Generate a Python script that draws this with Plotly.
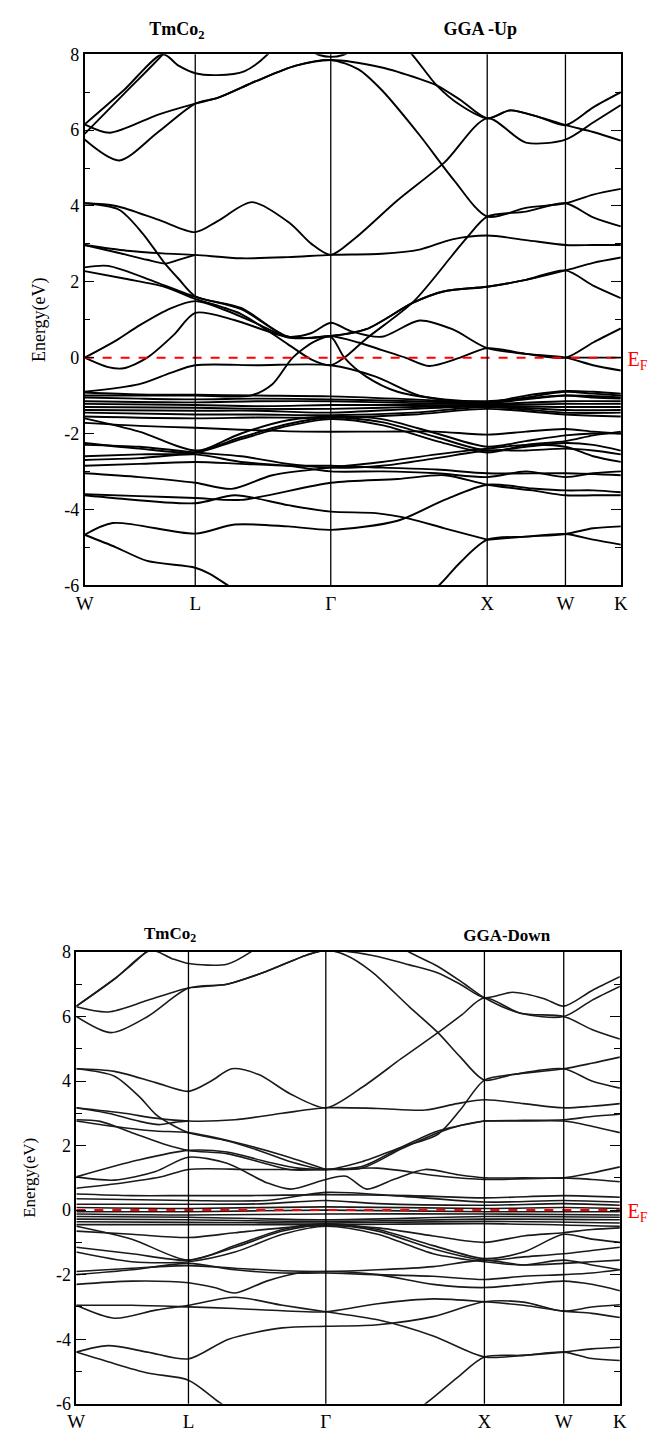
import plotly.graph_objects as go

# ---------------- data ----------------
HS_K = [0.0, 0.707, 1.573, 2.573, 3.073, 3.427]
HS_LABELS = ["W", "L", "Γ", "X", "W", "K"]
Y_TICKS = [8, 6, 4, 2, 0, -2, -4, -6]
Y_MINOR = [7, 5, 3, 1, -1, -3, -5]

# spin-up bands: (k, E) pairs
UP_BANDS = [
    [(0, 5.9), (0.25, 6.95), (0.5, 8.0), (0.62, 8.6), (0.7, 9.0)],
    [(0, 6.15), (0.25, 7.05), (0.5, 8.0), (0.6, 7.7), (0.707, 7.5), (0.85, 7.45), (1.02, 7.55), (1.17, 8.0), (1.3, 8.7)],
    [(0, 6.15), (0.16, 5.93), (0.47, 6.41), (0.707, 6.7), (0.85, 6.85), (1.1, 7.3), (1.35, 7.7), (1.573, 7.85), (1.9, 7.65), (2.14, 7.35), (2.25, 7.18), (2.4, 6.8), (2.573, 6.31), (2.72, 6.52), (2.9, 6.35), (3.073, 6.13), (3.25, 6.6), (3.427, 7.0)],
    [(1.35, 8.3), (1.5, 7.98), (1.573, 7.93), (1.65, 7.98), (1.8, 8.3)],
    [(1.95, 8.6), (2.1, 7.96), (2.25, 7.18), (2.4, 6.66), (2.573, 6.31), (2.72, 6.52), (2.9, 6.35), (3.073, 6.13), (3.25, 5.95), (3.427, 5.72)],
    [(0, 5.75), (0.22, 5.2), (0.47, 5.95), (0.707, 6.7), (0.85, 6.85), (1.1, 7.3), (1.35, 7.7), (1.573, 7.85), (1.75, 7.6), (1.9, 7.05), (2.14, 5.87), (2.36, 4.68), (2.573, 3.72), (2.82, 3.95), (3.073, 4.07), (3.25, 4.3), (3.427, 4.45)],
    [(0, 4.07), (0.2, 4.0), (0.47, 3.64), (0.707, 3.31), (0.85, 3.6), (1.07, 4.1), (1.31, 3.55), (1.45, 3.0), (1.573, 2.71), (1.72, 3.12), (2.0, 4.15), (2.3, 5.15), (2.573, 6.31), (2.82, 5.67), (3.073, 5.75), (3.25, 6.2), (3.427, 6.66)],
    [(0, 4.07), (0.22, 3.9), (0.37, 3.28), (0.51, 2.5), (0.6, 2.08), (0.707, 1.62), (1.0, 1.31), (1.3, 0.55), (1.573, 0.57), (1.8, 0.75), (2.1, 1.45), (2.3, 1.75), (2.573, 1.87), (2.82, 2.05), (3.073, 2.3), (3.25, 2.5), (3.427, 2.64)],
    [(0, 2.97), (0.27, 2.82), (0.5, 2.75), (0.707, 2.71), (1.0, 2.62), (1.3, 2.65), (1.573, 2.71), (1.9, 2.74), (2.14, 2.85), (2.35, 3.12), (2.573, 3.22), (2.82, 3.1), (3.073, 2.97), (3.25, 2.97), (3.427, 2.97)],
    [(0, 2.97), (0.2, 2.78), (0.4, 2.58), (0.515, 2.48), (0.6, 2.58), (0.707, 2.71)],
    [(0, 2.38), (0.15, 2.42), (0.45, 2.0), (0.707, 1.6), (1.0, 1.28), (1.3, 0.55), (1.573, 0.57), (1.8, 0.75), (2.1, 1.45), (2.3, 1.75), (2.573, 1.87), (2.82, 2.05), (3.073, 2.3), (3.25, 1.9), (3.427, 1.57)],
    [(0, 2.28), (0.26, 2.08), (0.51, 1.87), (0.707, 1.55), (1.0, 1.15), (1.3, 0.35), (1.45, -0.05), (1.573, -0.2), (1.66, 0.0), (1.8, 0.5), (2.1, 1.47), (2.35, 2.7), (2.45, 3.2), (2.573, 3.72), (2.82, 3.85), (3.073, 4.07), (3.25, 3.7), (3.427, 3.46)],
    [(0, 0.0), (0.2, 0.45), (0.35, 0.85), (0.55, 1.3), (0.707, 1.49), (0.9, 1.25), (1.1, 0.9), (1.3, 0.53), (1.45, 0.52), (1.573, 0.57), (1.75, 0.4), (1.9, 0.2), (2.05, 0.0), (2.2, -0.22), (2.4, 0.0), (2.573, 0.25), (2.82, 0.1), (3.073, 0.0), (3.25, -0.2), (3.427, -0.34)],
    [(0, 0.0), (0.15, -0.25), (0.25, -0.28), (0.4, 0.0), (0.57, 0.6), (0.707, 1.18), (0.95, 1.0), (1.3, 0.55), (1.45, 0.65), (1.573, 0.92), (1.7, 0.7), (1.9, 0.55), (2.14, 0.98), (2.35, 0.75), (2.573, 0.25), (2.82, 0.1), (3.073, 0.0), (3.25, 0.4), (3.427, 0.77)],
    [(3.073, 0.0), (3.25, 0.0), (3.427, 0.0)],
    [(0, -0.9), (0.35, -0.7), (0.55, -0.4), (0.707, -0.2), (1.1, -0.2), (1.573, -0.2), (1.86, -0.5), (2.14, -1.0), (2.573, -1.2), (2.82, -1.05), (3.073, -0.9), (3.25, -0.95), (3.427, -1.0)],
    [(0, -1.0), (0.35, -1.0), (0.707, -1.0), (1.06, -1.0), (1.2, -0.7), (1.33, 0.0), (1.47, 0.43), (1.573, 0.55), (1.66, 0.0), (1.8, -0.5), (2.0, -0.9), (2.3, -1.1), (2.573, -1.15), (3.073, -1.0), (3.427, -1.05)],
    [(0, -0.92), (0.35, -0.97), (0.707, -0.98), (1.1, -1.0), (1.573, -1.02), (2.1, -1.1), (2.573, -1.18), (2.82, -1.0), (3.073, -0.88), (3.25, -0.9), (3.427, -0.95)],
    [(0, -1.05), (0.35, -1.08), (0.707, -1.1), (1.1, -1.08), (1.573, -1.1), (2.1, -1.15), (2.573, -1.2), (2.82, -1.1), (3.073, -1.0), (3.25, -1.05), (3.427, -1.08)],
    [(0, -1.15), (0.707, -1.18), (1.1, -1.15), (1.573, -1.15), (2.1, -1.2), (2.573, -1.22), (3.073, -1.15), (3.427, -1.15)],
    [(0, -1.22), (0.707, -1.25), (1.1, -1.28), (1.573, -1.25), (2.1, -1.25), (2.573, -1.25), (3.073, -1.22), (3.427, -1.22)],
    [(0, -1.3), (0.707, -1.32), (1.1, -1.35), (1.573, -1.35), (2.1, -1.3), (2.573, -1.27), (3.073, -1.3), (3.427, -1.3)],
    [(0, -1.38), (0.707, -1.4), (1.1, -1.4), (1.573, -1.45), (2.1, -1.35), (2.573, -1.28), (3.073, -1.38), (3.427, -1.38)],
    [(0, -1.45), (0.707, -1.5), (1.1, -1.5), (1.573, -1.52), (2.1, -1.45), (2.573, -1.3), (3.073, -1.45), (3.427, -1.45)],
    [(0, -1.55), (0.707, -1.6), (1.1, -1.58), (1.573, -1.58), (2.1, -1.5), (2.573, -1.35), (3.073, -1.5), (3.427, -1.55)],
    [(0, -1.72), (0.35, -1.8), (0.707, -1.85), (1.0, -1.9), (1.4, -1.95), (1.9, -1.95), (2.25, -1.95), (2.573, -2.03), (2.82, -1.95), (3.073, -1.88), (3.25, -1.95), (3.427, -2.0)],
    [(0, -1.6), (0.35, -1.95), (0.707, -2.45), (1.0, -2.1), (1.3, -1.75), (1.573, -1.58), (1.9, -1.7), (2.25, -2.1), (2.573, -2.45), (2.82, -2.35), (3.073, -2.25), (3.25, -2.3), (3.427, -2.45)],
    [(0, -2.25), (0.35, -2.4), (0.707, -2.5), (1.0, -2.15), (1.3, -1.8), (1.573, -1.62), (1.9, -1.78), (2.25, -2.2), (2.573, -2.5), (2.82, -2.3), (3.073, -2.2), (3.25, -2.05), (3.427, -1.95)],
    [(0, -2.6), (0.35, -2.55), (0.707, -2.5), (1.0, -2.0), (1.3, -1.65), (1.573, -1.55), (1.9, -1.62), (2.25, -2.0), (2.573, -2.35), (2.82, -2.2), (3.073, -2.05), (3.25, -2.0), (3.427, -2.0)],
    [(0, -2.3), (0.35, -2.35), (0.707, -2.5), (1.0, -2.6), (1.3, -2.8), (1.573, -2.9), (1.9, -2.85), (2.25, -2.65), (2.573, -2.45), (2.82, -2.45), (3.073, -2.4), (3.25, -2.45), (3.427, -2.55)],
    [(0, -2.7), (0.35, -2.65), (0.707, -2.55), (1.0, -2.75), (1.3, -2.85), (1.573, -3.0), (1.9, -3.0), (2.25, -3.05), (2.573, -3.15), (2.82, -3.0), (3.073, -3.15), (3.25, -3.05), (3.427, -3.0)],
    [(0, -2.85), (0.35, -2.8), (0.707, -2.75), (1.0, -2.8), (1.3, -2.85), (1.573, -2.85), (1.9, -2.9), (2.25, -2.95), (2.573, -3.05), (3.073, -3.05), (3.427, -3.1)],
    [(0, -3.05), (0.35, -3.15), (0.707, -3.3), (0.94, -3.46), (1.2, -3.1), (1.573, -2.9), (1.9, -2.75), (2.25, -2.55), (2.573, -2.4), (2.82, -2.3), (3.073, -2.35), (3.25, -2.6), (3.427, -2.75)],
    [(0, -3.63), (0.18, -3.7), (0.707, -3.84), (0.96, -3.63), (1.3, -3.89), (1.573, -4.06), (1.86, -4.1), (2.08, -4.25), (2.3, -4.5), (2.573, -4.8)],
    [(0, -3.6), (0.35, -3.65), (0.707, -3.7), (1.0, -3.75), (1.573, -3.3), (2.0, -3.2), (2.3, -3.1), (2.573, -3.35), (2.86, -3.5), (3.073, -3.63), (3.25, -3.63), (3.427, -3.63)],
    [(0, -4.67), (0.18, -4.36), (0.707, -4.64), (0.96, -4.4), (1.3, -4.45), (1.573, -4.54), (2.0, -4.3), (2.3, -3.75), (2.573, -3.35), (2.86, -3.45), (3.073, -3.5), (3.25, -3.5), (3.427, -3.55)],
    [(0, -4.67), (0.2, -5.0), (0.4, -5.36), (0.707, -5.54), (0.8, -5.7), (0.95, -6.1), (1.3, -7.0), (1.573, -7.3), (1.9, -7.0), (2.25, -6.06), (2.4, -5.4), (2.573, -4.8), (2.82, -4.72), (3.073, -4.65), (3.25, -4.5), (3.427, -4.45)],
    [(2.573, -4.8), (2.82, -4.72), (3.073, -4.65), (3.25, -4.8), (3.427, -4.93)],
]

# spin-down bands: (k, E) pairs
DN_BANDS = [
    [(0, 6.32), (0.25, 7.2), (0.45, 8.05), (0.6, 8.8)],
    [(0, 6.32), (0.25, 7.2), (0.47, 8.05), (0.6, 7.8), (0.707, 7.64), (0.95, 7.62), (1.1, 8.0), (1.25, 8.6)],
    [(0, 6.3), (0.2, 6.14), (0.45, 6.5), (0.707, 6.88), (0.95, 7.0), (1.2, 7.4), (1.45, 7.9), (1.573, 8.05), (1.86, 7.9), (2.1, 7.6), (2.28, 7.35), (2.42, 7.0), (2.573, 6.58), (2.75, 6.75), (2.95, 6.55), (3.073, 6.32), (3.25, 6.8), (3.427, 7.23)],
    [(0, 6.0), (0.22, 5.5), (0.45, 6.0), (0.707, 6.88), (0.95, 7.0), (1.2, 7.4), (1.45, 7.9), (1.573, 8.05), (1.7, 7.9), (1.86, 7.4), (2.1, 6.3), (2.28, 5.5), (2.42, 4.75), (2.573, 4.03), (2.75, 4.2), (3.073, 4.38), (3.25, 4.55), (3.427, 4.74)],
    [(2.0, 8.4), (2.08, 8.05), (2.28, 7.55), (2.45, 7.0), (2.573, 6.58), (2.8, 6.1), (3.073, 6.0), (3.25, 6.5), (3.427, 6.93)],
    [(0, 4.38), (0.24, 4.3), (0.5, 3.95), (0.707, 3.68), (0.85, 4.0), (0.98, 4.38), (1.15, 4.2), (1.35, 3.6), (1.573, 3.17), (1.8, 3.8), (2.05, 4.7), (2.28, 5.5), (2.43, 6.05), (2.573, 6.58), (2.8, 6.1), (3.073, 6.0), (3.25, 5.6), (3.427, 5.3)],
    [(0, 4.38), (0.24, 4.15), (0.4, 3.5), (0.5, 2.97), (0.62, 2.6), (0.707, 2.4), (0.95, 2.15), (1.15, 1.85), (1.35, 1.5), (1.573, 1.26), (1.8, 1.5), (2.05, 1.95), (2.28, 2.35), (2.42, 3.1), (2.573, 4.03), (2.75, 4.2), (3.073, 4.38), (3.25, 4.0), (3.427, 3.78)],
    [(0, 3.17), (0.3, 3.0), (0.5, 2.85), (0.707, 2.76), (1.0, 2.8), (1.3, 3.0), (1.573, 3.17), (1.9, 3.15), (2.2, 3.1), (2.4, 3.3), (2.573, 3.42), (2.82, 3.3), (3.073, 3.17), (3.25, 3.22), (3.427, 3.3)],
    [(0, 3.17), (0.2, 3.0), (0.4, 2.75), (0.52, 2.65), (0.62, 2.72), (0.707, 2.76)],
    [(0, 2.8), (0.15, 2.75), (0.35, 2.4), (0.55, 2.05), (0.707, 1.85), (0.95, 1.75), (1.15, 1.5), (1.35, 1.25), (1.573, 1.26), (1.8, 1.3), (2.05, 1.9), (2.28, 2.4), (2.42, 2.62), (2.573, 2.76), (2.82, 2.78), (3.073, 2.8), (3.25, 2.9), (3.427, 2.97)],
    [(0, 2.76), (0.3, 2.55), (0.5, 2.45), (0.707, 2.4), (1.0, 2.1), (1.3, 1.7), (1.573, 1.26)],
    [(2.573, 2.76), (2.82, 2.76), (3.073, 2.76), (3.25, 2.6), (3.427, 2.4)],
    [(0, 1.03), (0.24, 0.93), (0.5, 1.2), (0.707, 1.64), (0.95, 1.45), (1.2, 0.85), (1.35, 0.65), (1.573, 0.95), (1.7, 1.05), (1.83, 0.65), (2.0, 0.95), (2.2, 1.26), (2.4, 1.1), (2.573, 1.0), (2.82, 1.0), (3.073, 1.0), (3.25, 1.15), (3.427, 1.34)],
    [(0, 1.03), (0.39, 1.55), (0.707, 1.85), (0.95, 1.8), (1.2, 1.5), (1.4, 1.3), (1.573, 1.26), (1.8, 1.35), (2.05, 1.95), (2.28, 2.45), (2.573, 2.76)],
    [(0, 0.68), (0.3, 0.85), (0.55, 1.05), (0.707, 1.26), (1.1, 1.26), (1.573, 1.26), (1.9, 1.3), (2.3, 1.05), (2.573, 0.95), (3.073, 1.0), (3.25, 0.95), (3.427, 0.88)],
    [(0, 0.5), (0.35, 0.45), (0.707, 0.45), (1.1, 0.45), (1.573, 0.48), (2.1, 0.45), (2.573, 0.38), (3.073, 0.45), (3.427, 0.4)],
    [(0, 0.35), (0.707, 0.3), (1.2, 0.3), (1.573, 0.55), (2.0, 0.45), (2.573, 0.25), (3.073, 0.3), (3.427, 0.25)],
    [(0, 0.18), (0.707, 0.18), (1.2, 0.2), (1.573, 0.3), (1.9, 0.2), (2.573, 0.15), (3.073, 0.2), (3.427, 0.15)],
    [(0, 0.08), (0.707, 0.05), (1.573, 0.1), (2.573, 0.05), (3.073, 0.08), (3.427, 0.05)],
    [(0, -0.05), (0.707, -0.05), (1.573, 0.0), (2.573, -0.05), (3.427, -0.05)],
    [(0, -0.12), (0.707, -0.15), (1.573, -0.12), (2.573, -0.12), (3.427, -0.15)],
    [(0, -0.2), (0.707, -0.22), (1.573, -0.3), (2.573, -0.2), (3.427, -0.22)],
    [(0, -0.28), (0.707, -0.3), (1.573, -0.35), (2.573, -0.28), (3.427, -0.3)],
    [(0, -0.36), (0.707, -0.38), (1.573, -0.4), (2.573, -0.35), (3.427, -0.4)],
    [(0, -0.45), (0.707, -0.45), (1.573, -0.45), (2.573, -0.42), (3.427, -0.5)],
    [(0, -0.5), (0.35, -0.9), (0.707, -1.55), (1.0, -1.1), (1.3, -0.6), (1.573, -0.42), (1.9, -0.6), (2.25, -1.1), (2.573, -1.5), (2.82, -1.3), (3.073, -0.75), (3.25, -0.9), (3.427, -1.0)],
    [(0, -1.15), (0.35, -1.35), (0.707, -1.55), (1.0, -1.15), (1.3, -0.65), (1.573, -0.45), (1.9, -0.65), (2.25, -1.2), (2.573, -1.55), (2.82, -1.45), (3.073, -1.35), (3.25, -1.25), (3.427, -1.15)],
    [(0, -0.65), (0.35, -0.75), (0.707, -0.85), (1.0, -0.7), (1.3, -0.55), (1.573, -0.48), (1.9, -0.55), (2.25, -0.8), (2.573, -1.0), (2.82, -0.8), (3.073, -0.7), (3.25, -0.6), (3.427, -0.55)],
    [(0, -1.3), (0.35, -1.6), (0.707, -1.6), (1.0, -1.3), (1.3, -0.75), (1.573, -0.5), (1.9, -0.75), (2.25, -1.35), (2.573, -1.6), (2.82, -1.7), (3.073, -1.55), (3.25, -1.7), (3.427, -1.85)],
    [(0, -1.9), (0.35, -1.8), (0.707, -1.72), (1.0, -1.8), (1.3, -1.88), (1.573, -1.9), (1.9, -1.85), (2.25, -1.75), (2.573, -1.55), (2.82, -1.7), (3.073, -1.65), (3.25, -1.6), (3.427, -1.55)],
    [(0, -2.0), (0.35, -1.85), (0.707, -1.65), (1.0, -1.85), (1.3, -1.95), (1.573, -1.95), (1.9, -2.0), (2.25, -2.05), (2.573, -2.15), (2.82, -2.05), (3.073, -2.0), (3.25, -1.95), (3.427, -1.85)],
    [(0, -2.3), (0.35, -2.2), (0.707, -2.25), (0.87, -2.4), (1.0, -2.57), (1.2, -2.2), (1.4, -1.95), (1.573, -1.9), (1.9, -2.0), (2.25, -2.3), (2.573, -2.4), (2.82, -2.3), (3.073, -2.2), (3.25, -2.3), (3.427, -2.5)],
    [(0, -2.95), (0.24, -3.35), (0.5, -3.1), (0.707, -2.95), (1.0, -2.7), (1.3, -2.95), (1.573, -3.15), (1.9, -3.4), (2.25, -3.9), (2.573, -4.55), (2.82, -4.5), (3.073, -4.4), (3.25, -4.3), (3.427, -4.25)],
    [(0, -2.95), (0.35, -2.95), (0.707, -3.0), (1.0, -3.05), (1.3, -3.12), (1.573, -3.15), (1.9, -2.9), (2.25, -2.75), (2.573, -2.84), (2.82, -2.95), (3.073, -3.13), (3.25, -3.2), (3.427, -3.33)],
    [(0, -4.4), (0.2, -4.2), (0.45, -4.4), (0.707, -4.61), (0.96, -4.0), (1.3, -3.65), (1.573, -3.6), (1.9, -3.55), (2.25, -3.3), (2.573, -2.84), (2.82, -2.85), (3.073, -3.13), (3.25, -3.0), (3.427, -2.93)],
    [(0, -4.4), (0.2, -4.7), (0.45, -5.05), (0.707, -5.27), (0.9, -5.95), (1.1, -6.6), (1.573, -7.2), (2.0, -6.7), (2.22, -5.93), (2.4, -5.2), (2.573, -4.55), (2.82, -4.5), (3.073, -4.4), (3.25, -4.6), (3.427, -4.66)],
]

# ---------------- figure ----------------
W_PX, H_PX = 662, 1432
FONT = "Liberation Serif"


def px_x(x):
    return x / W_PX


def px_y(y):
    return 1 - y / H_PX


fig = go.Figure()

panels = [
    dict(bands=UP_BANDS, xa="x", ya="y", color="#000000", width=1.9,
         dom_x=[px_x(77.5), px_x(627)], dom_y=[px_y(585), px_y(45)]),
    dict(bands=DN_BANDS, xa="x2", ya="y2", color="#1a1a1a", width=1.6,
         dom_x=[px_x(69), px_x(626)], dom_y=[px_y(1417.5), px_y(958)]),
]

for p in panels:
    for band in p["bands"]:
        ks = [b[0] for b in band]
        es = [b[1] for b in band]
        fig.add_trace(go.Scatter(x=ks, y=es, mode="lines", xaxis=p["xa"], yaxis=p["ya"],
                                 line=dict(color=p["color"], width=p["width"], shape="spline", smoothing=0.8),
                                 showlegend=False, hoverinfo="skip"))
    # Fermi level
    fig.add_trace(go.Scatter(x=[HS_K[0], HS_K[-1]], y=[0, 0], mode="lines", xaxis=p["xa"], yaxis=p["ya"],
                             line=dict(color="#ff0000", width=2, dash="dash"),
                             showlegend=False, hoverinfo="skip"))

shapes = []
for xa, ya in [("x", "y"), ("x2", "y2")]:
    for k in HS_K[1:-1]:
        shapes.append(dict(type="line", xref=xa, yref=ya + " domain", x0=k, x1=k, y0=0, y1=1,
                           line=dict(color="black", width=1.3)))

axis_common_x = dict(range=[HS_K[0], HS_K[-1]], tickvals=HS_K, ticktext=HS_LABELS, ticks="",
                     showgrid=False, zeroline=False, showline=True, mirror=True, linecolor="black",
                     linewidth=1.5, tickfont=dict(family=FONT, size=19, color="black"))
axis_common_y = dict(range=[-6, 8], tickvals=Y_TICKS, ticktext=[str(v) for v in Y_TICKS],
                     ticks="inside", ticklen=10, tickwidth=1.2, tickcolor="black",
                     minor=dict(tickvals=Y_MINOR, ticks="inside", ticklen=6, tickwidth=1.2, tickcolor="black"),
                     showgrid=False, zeroline=False, showline=True, mirror="ticks", linecolor="black",
                     linewidth=1.5, tickfont=dict(family=FONT, size=18, color="black"))

# overlay axis in pixel units (for the free-standing labels)
fig.update_layout(
    width=W_PX, height=H_PX, margin=dict(l=0, r=0, t=0, b=0),
    paper_bgcolor="white", plot_bgcolor="rgba(0,0,0,0)",
    xaxis=dict(axis_common_x, domain=panels[0]["dom_x"], anchor="y"),
    yaxis=dict(axis_common_y, domain=panels[0]["dom_y"], anchor="x",
               title=dict(text="Energy(eV)", standoff=14, font=dict(family=FONT, size=18, color="black"))),
    xaxis2=dict(axis_common_x, domain=panels[1]["dom_x"], anchor="y2"),
    yaxis2=dict(axis_common_y, domain=panels[1]["dom_y"], anchor="x2",
                title=dict(text="Energy(eV)", standoff=16, font=dict(family=FONT, size=17, color="black"))),
    xaxis3=dict(domain=[0, 1], range=[0, W_PX], visible=False, anchor="y3", fixedrange=True),
    yaxis3=dict(domain=[0, 1], range=[H_PX, 0], visible=False, anchor="x3", fixedrange=True),
    shapes=shapes,
)

LABEL_TEXT = ["TmCo<sub>2</sub>", "GGA -Up", "TmCo<sub>2</sub>", "GGA-Down", "E<sub>F</sub>", "E<sub>F</sub>"]
LABEL_X = [172, 483, 165, 510, 644, 644]
LABEL_Y = [21, 21, 940, 943, 357, 1223]
LABEL_SIZE = [18, 18, 17, 17, 20, 20]
LABEL_COLOR = ["black", "black", "black", "black", "#ff0000", "#ff0000"]
LABEL_WEIGHT = ["bold", "bold", "bold", "bold", "normal", "normal"]

for t, x, y, s, c, w in zip(LABEL_TEXT, LABEL_X, LABEL_Y, LABEL_SIZE, LABEL_COLOR, LABEL_WEIGHT):
    fig.add_trace(go.Scatter(x=[x], y=[y], mode="text", text=[t], textposition="middle center",
                             xaxis="x3", yaxis="y3", showlegend=False, hoverinfo="skip", cliponaxis=False,
                             textfont=dict(family=FONT, size=s, color=c, weight=w)))

fig.write_html("out.html")
